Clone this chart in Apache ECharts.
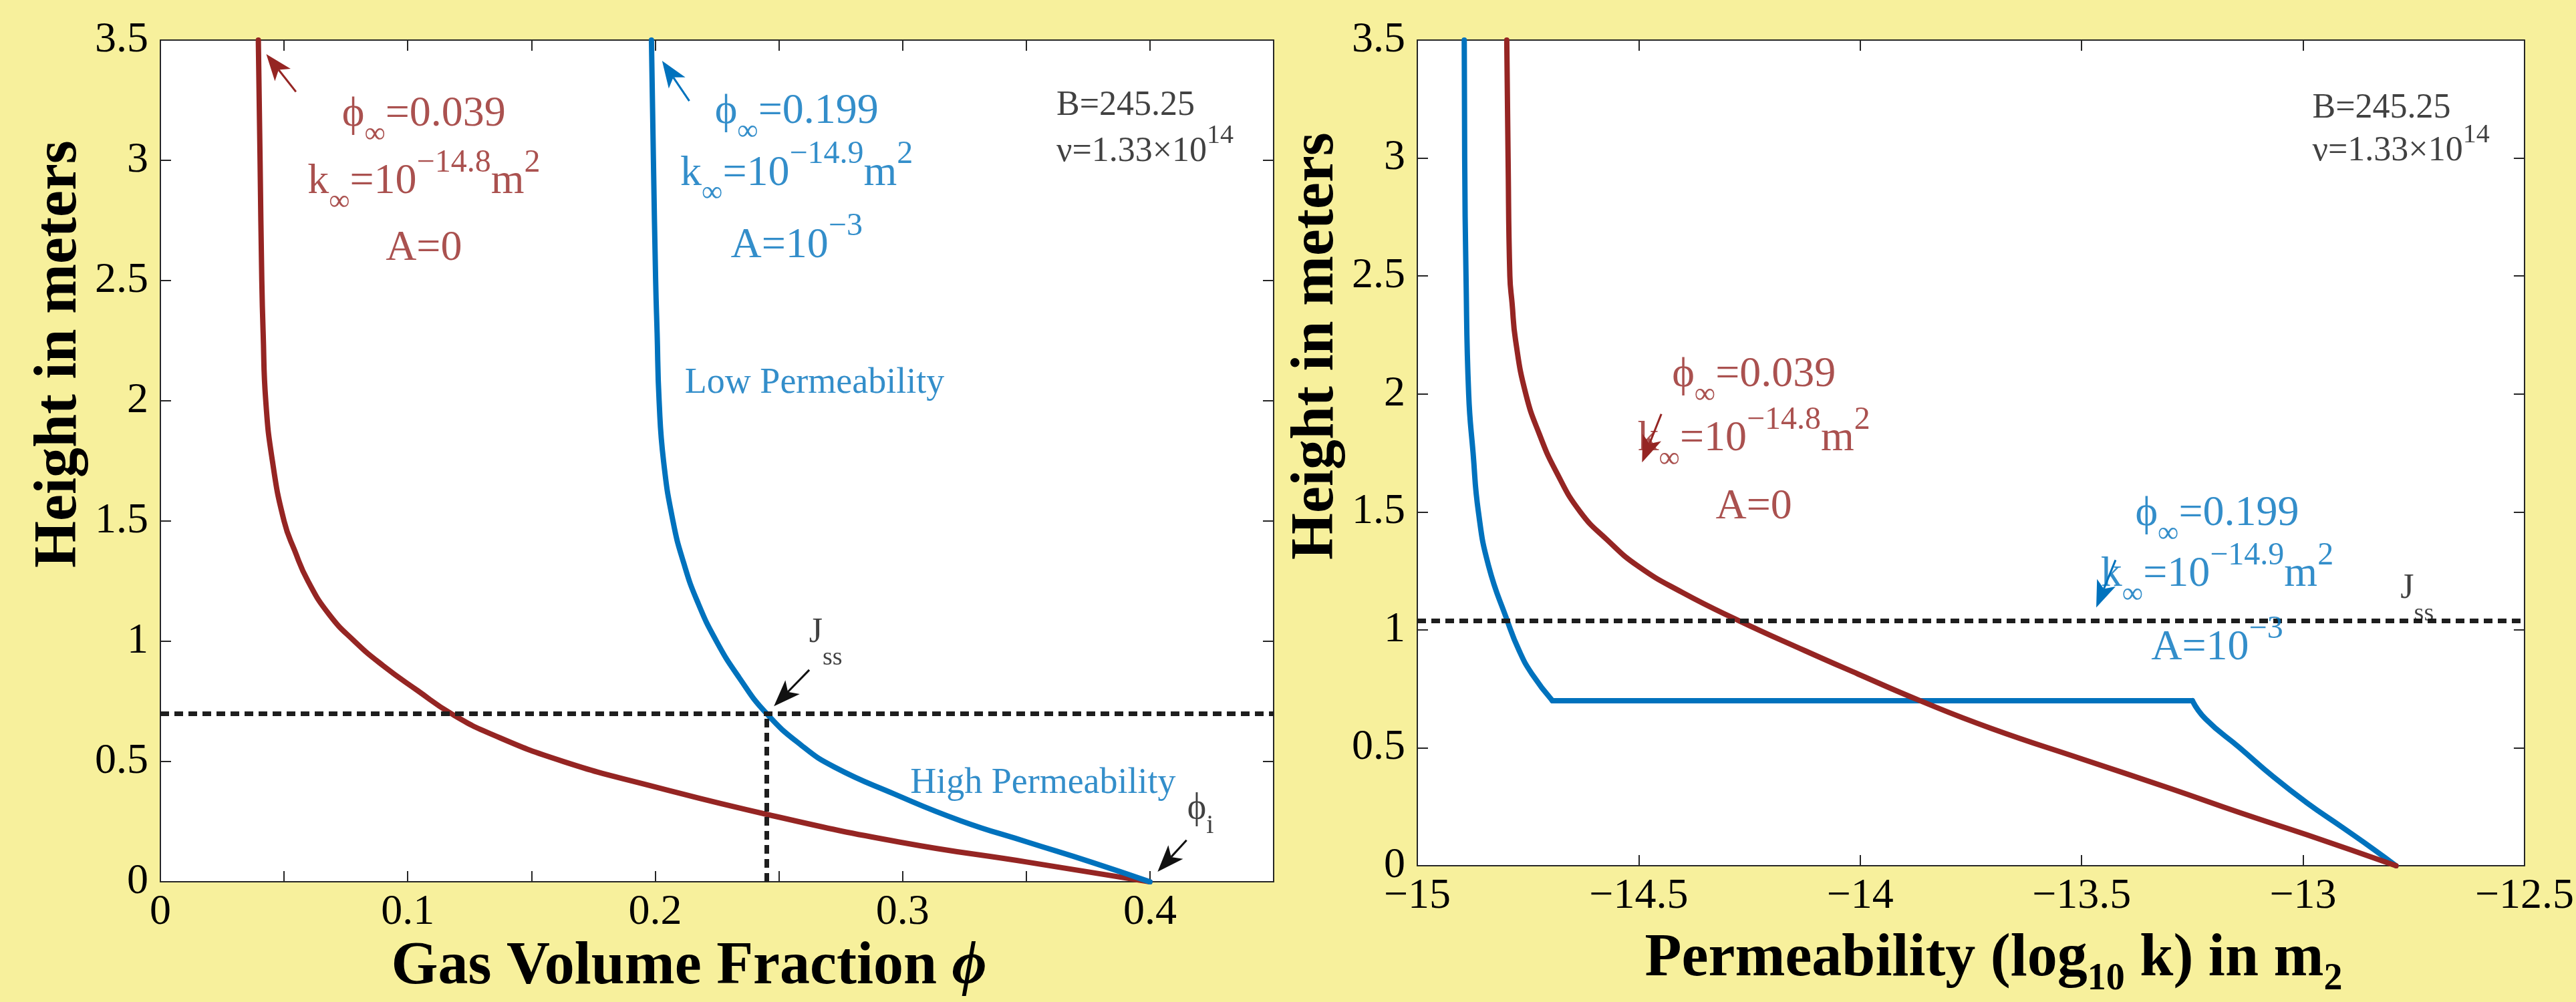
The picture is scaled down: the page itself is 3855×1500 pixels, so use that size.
<!DOCTYPE html>
<html>
<head>
<meta charset="utf-8">
<title>Gas volume fraction and permeability against height</title>
<script src="https://cdn.jsdelivr.net/npm/echarts@6/dist/echarts.min.js"></script>
<style>
  html, body { margin: 0; padding: 0; background: #f7f09c; }
  #chart { width: 3855px; height: 1500px; }
</style>
</head>
<body>
<div id="chart"></div>
<script>
// ---- data ----
const heightTickLabels = ['0', '0.5', '1', '1.5', '2', '2.5', '3', '3.5'];
const phiTickLabels = ['0', '0.1', '0.2', '0.3', '0.4'];
const permTickLabels = ['−15', '−14.5', '−14', '−13.5', '−13', '−12.5'];

// left panel: height (m) vs gas volume fraction
const heightRedL = [3.5, 3.0, 2.5, 2.28, 2.0, 1.749, 1.5, 1.377, 1.25, 1.112, 1.0, 0.9, 0.795, 0.70, 0.611, 0.5, 0.40, 0.276, 0.165, 0.082, 0];
const phiRed = [0.0396, 0.0403, 0.041, 0.04155, 0.0426, 0.0453, 0.0500, 0.0543, 0.0597, 0.0682, 0.0785, 0.0899, 0.104, 0.1175, 0.1345, 0.163, 0.198, 0.247, 0.299, 0.3505, 0.4];
const heightBlueL = [3.5, 3.0, 2.5, 2.28, 2.0, 1.749, 1.5, 1.324, 1.165, 1.0, 0.847, 0.70, 0.566, 0.477, 0.366, 0.254, 0.165, 0.082, 0];
const phiBlue = [0.1985, 0.1993, 0.2002, 0.2008, 0.2016, 0.2034, 0.2072, 0.2116, 0.2171, 0.2248, 0.2341, 0.2450, 0.2593, 0.2725, 0.2965, 0.3235, 0.3506, 0.3763, 0.4];

// right panel: height vs log10 permeability
const heightRedR = [3.5, 3.0, 2.5, 2.385, 2.226, 2.0, 1.828, 1.669, 1.5, 1.381, 1.271, 1.159, 1.04, 0.912, 0.813, 0.70, 0.583, 0.452, 0.326, 0.226, 0.131, 0];
const logkRed = [-14.798, -14.795, -14.791, -14.786, -14.778, -14.755, -14.724, -14.686, -14.632, -14.571, -14.502, -14.402, -14.275, -14.125, -14.005, -13.865, -13.705, -13.498, -13.297, -13.144, -12.991, -12.79];
const heightBlueUpper = [3.5, 3.0, 2.5, 2.0, 1.749, 1.5, 1.271, 1.04, 0.912, 0.813, 0.70];
const logkBlueUpper = [-14.894, -14.893, -14.890, -14.884, -14.874, -14.862, -14.839, -14.797, -14.770, -14.741, -14.695];
const heightBlueLower = [0.70, 0.622, 0.5, 0.377, 0.265, 0.165, 0.065, 0];
const logkBlueLower = [-13.25, -13.22, -13.143, -13.067, -12.990, -12.913, -12.837, -12.79];

// steady-state markers
const jssHeightLeft = 0.7;
const jssPhi = 0.245;
const jssHeightRight = 1.04;

// ---- styling ----
const SERIF = 'Liberation Serif';
const RED = '#952523';
const BLUE = '#0072bd';
const INK = '#111';
const AXIS_INK = '#262626';
const ARROW_COLORS = [RED, BLUE, INK];

const tok = (color, size, lh, va) =>
  ({ color, fontFamily: SERIF, fontSize: size, lineHeight: lh, verticalAlign: va });

const RICH = {
  rn: tok(RED, 64, 104, 'middle'), rb: tok(RED, 44, 44, 'bottom'), rp: tok(RED, 48, 48, 'top'),
  bn: tok(BLUE, 64, 104, 'middle'), bb: tok(BLUE, 44, 44, 'bottom'), bp: tok(BLUE, 48, 48, 'top'),
  bt: tok(BLUE, 54, 60, 'middle'),
  kn: tok(INK, 52, 88, 'middle'), kp: tok(INK, 40, 40, 'top'),
  jn: tok(INK, 52, 112, 'middle'), jb: tok(INK, 38, 38, 'bottom'),
  fn: tok(INK, 54, 92, 'middle'), fb: tok(INK, 40, 40, 'bottom')
};

// annotations (data coordinates)
const notesLeft = [
  { at: [0.1065, 3.19], pos: 'inside', text: '{rn|ϕ}{rb|∞}{rn|=0.039}' },
  { at: [0.1065, 2.91], pos: 'inside', text: '{rn|k}{rb|∞}{rn|=10}{rp|−14.8}{rn|m}{rp|2}' },
  { at: [0.1065, 2.632], pos: 'inside', text: '{rn|A=0}' },
  { at: [0.2572, 3.202], pos: 'inside', text: '{bn|ϕ}{bb|∞}{bn|=0.199}' },
  { at: [0.2572, 2.945], pos: 'inside', text: '{bn|k}{bb|∞}{bn|=10}{bp|−14.9}{bn|m}{bp|2}' },
  { at: [0.2572, 2.645], pos: 'inside', text: '{bn|A=10}{bp|−3}' },
  { at: [0.212, 2.074], pos: 'right', text: '{bt|Low Permeability}' },
  { at: [0.3031, 0.41], pos: 'right', text: '{bt|High Permeability}' },
  { at: [0.3622, 3.228], pos: 'right', text: '{kn|B=245.25}' },
  { at: [0.3622, 3.035], pos: 'right', text: '{kn|ν=1.33×10}{kp|14}' },
  { at: [0.2622, 1.034], pos: 'right', text: '{jn|J}{jb|ss}' },
  { at: [0.4151, 0.304], pos: 'right', text: '{fn|ϕ}{fb|i}' }
];
const notesRight = [
  { at: [-14.24, 2.08], pos: 'inside', text: '{rn|ϕ}{rb|∞}{rn|=0.039}' },
  { at: [-14.24, 1.808], pos: 'inside', text: '{rn|k}{rb|∞}{rn|=10}{rp|−14.8}{rn|m}{rp|2}' },
  { at: [-14.24, 1.52], pos: 'inside', text: '{rn|A=0}' },
  { at: [-13.194, 1.491], pos: 'inside', text: '{bn|ϕ}{bb|∞}{bn|=0.199}' },
  { at: [-13.194, 1.2346], pos: 'inside', text: '{bn|k}{bb|∞}{bn|=10}{bp|−14.9}{bn|m}{bp|2}' },
  { at: [-13.194, 0.9226], pos: 'inside', text: '{bn|A=10}{bp|−3}' },
  { at: [-12.979, 3.21], pos: 'right', text: '{kn|B=245.25}' },
  { at: [-12.979, 3.029], pos: 'right', text: '{kn|ν=1.33×10}{kp|14}' },
  { at: [-12.78, 1.1733], pos: 'right', text: '{jn|J}{jb|ss}' }
];
// arrows: tail x, tail y, tip x, tip y, colour index
const arrowsLeft = [
  [0.0548, 3.285, 0.0428, 3.442, 0],
  [0.2138, 3.247, 0.2028, 3.414, 1],
  [0.2623, 0.881, 0.248, 0.730, 2],
  [0.4148, 0.173, 0.4031, 0.042, 2]
];
const arrowsRight = [
  [-14.449, 1.915, -14.4925, 1.71, 0],
  [-13.4234, 1.296, -13.467, 1.095, 1]
];

const zip = (xs, ys) => xs.map((x, i) => [x, ys[i]]);
const tickFormatter = labels => v =>
  labels.find(t => Math.abs(parseFloat(t.replace('−', '-')) - v) < 1e-6) ?? '';

const frameLine = { show: true, onZero: false, lineStyle: { color: AXIS_INK, width: 2 } };
const frameTick = { show: true, inside: true, length: 16, lineStyle: { color: AXIS_INK, width: 2 } };
const tickText = { fontFamily: SERIF, fontSize: 64, color: '#000' };
const titleText = { fontFamily: SERIF, fontWeight: 'bold', fontSize: 90, color: '#000', lineHeight: 92 };

const axis = extra => Object.assign({
  type: 'value', axisLine: frameLine, axisTick: frameTick, splitLine: { show: false }
}, extra);

// the y titles sit above the middle of the axis in the original, hence the padding
const heightAxis = (grid, pos, labelled) => axis({
  gridIndex: grid, position: pos, min: 0, max: 3.5, interval: 0.5,
  axisLabel: labelled ? { ...tickText, margin: 18, formatter: tickFormatter(heightTickLabels) } : { show: false },
  name: labelled ? 'Height in meters' : '', nameLocation: 'middle', nameRotate: 90, nameGap: 104,
  nameTextStyle: { ...titleText, padding: [0, 0, 0, 320] }
});

function renderArrow(params, api) {
  const tail = api.coord([api.value(0), api.value(1)]);
  const tip = api.coord([api.value(2), api.value(3)]);
  const color = ARROW_COLORS[api.value(4)];
  const dx = tip[0] - tail[0], dy = tip[1] - tail[1];
  const len = Math.hypot(dx, dy) || 1;
  const ux = dx / len, uy = dy / len, nx = -uy, ny = ux;
  const headLen = 40, halfW = 15, notch = 10;
  const base = [tip[0] - ux * headLen, tip[1] - uy * headLen];
  const neck = [tip[0] - ux * (headLen - notch), tip[1] - uy * (headLen - notch)];
  return {
    type: 'group',
    children: [
      { type: 'line', shape: { x1: tail[0], y1: tail[1], x2: neck[0], y2: neck[1] },
        style: { stroke: color, lineWidth: 3 } },
      { type: 'polygon',
        shape: { points: [tip, [base[0] + nx * halfW, base[1] + ny * halfW], neck,
                          [base[0] - nx * halfW, base[1] - ny * halfW]] },
        style: { fill: color } }
    ]
  };
}

const curve = (data, color, xi, yi, smooth, extra) => Object.assign({
  type: 'line', xAxisIndex: xi, yAxisIndex: yi, data, smooth, symbol: 'none', silent: true,
  lineStyle: { color, width: 8, cap: 'round', join: 'round' }
}, extra || {});

const dashed = { type: [13, 8], width: 7, color: '#1e1e1e' };

const notesSeries = (notes, xi, yi) => ({
  type: 'scatter', xAxisIndex: xi, yAxisIndex: yi, symbolSize: 0, silent: true, clip: false, z: 5,
  label: { show: true, rich: RICH },
  data: notes.map(n => ({ value: n.at, label: { position: n.pos, distance: 0, formatter: n.text } }))
});

const arrowSeries = (arrows, xi, yi) => ({
  type: 'custom', coordinateSystem: 'cartesian2d', xAxisIndex: xi, yAxisIndex: yi,
  silent: true, z: 6, renderItem: renderArrow, data: arrows
});

const chart = echarts.init(document.getElementById('chart'));
chart.setOption({
  backgroundColor: '#f7f09c',
  animation: false,
  grid: [
    { left: 240, top: 60, width: 1666, height: 1262, show: true, backgroundColor: '#fff', borderWidth: 0 },
    { left: 2121, top: 60, width: 1665, height: 1262, show: true, backgroundColor: '#fff', borderWidth: 0 }
  ],
  xAxis: [
    axis({
      gridIndex: 0, position: 'bottom', min: 0, max: 0.45, interval: 0.05,
      axisLabel: { ...tickText, margin: 14, formatter: tickFormatter(phiTickLabels) },
      name: 'Gas Volume Fraction {i|ϕ}', nameLocation: 'middle', nameGap: 80,
      nameTextStyle: { ...titleText, padding: [0, 84, 0, 0],
        rich: { i: { ...titleText, fontStyle: 'italic' } } }
    }),
    axis({ gridIndex: 0, position: 'top', min: 0, max: 0.45, interval: 0.05, axisLabel: { show: false } }),
    axis({
      gridIndex: 1, position: 'bottom', min: -15, max: -12.5, interval: 0.5,
      axisLabel: { ...tickText, margin: 14, formatter: tickFormatter(permTickLabels) },
      name: 'Permeability (log{s|10} k) in m{s|2}', nameLocation: 'middle', nameGap: 68,
      nameTextStyle: {
        ...titleText, lineHeight: 116, padding: [0, 0, 0, 68],
        rich: { s: { ...titleText, fontSize: 56, lineHeight: 56, verticalAlign: 'bottom' } }
      }
    }),
    axis({ gridIndex: 1, position: 'top', min: -15, max: -12.5, interval: 0.5, axisLabel: { show: false } })
  ],
  yAxis: [
    heightAxis(0, 'left', true),
    heightAxis(0, 'right', false),
    heightAxis(1, 'left', true),
    heightAxis(1, 'right', false)
  ],
  series: [
    // left panel
    curve(zip(phiRed, heightRedL), RED, 0, 0, 0.5),
    curve(zip(phiBlue, heightBlueL), BLUE, 0, 0, 0.5, {
      markLine: {
        silent: true, symbol: 'none', label: { show: false }, lineStyle: dashed,
        data: [
          { yAxis: jssHeightLeft },
          [{ coord: [jssPhi, 0] }, { coord: [jssPhi, jssHeightLeft] }]
        ]
      }
    }),
    arrowSeries(arrowsLeft, 0, 0),
    notesSeries(notesLeft, 0, 0),
    // right panel
    curve(zip(logkBlueUpper, heightBlueUpper), BLUE, 2, 2, 0.5),
    curve([[logkBlueUpper[logkBlueUpper.length - 1], heightBlueUpper[heightBlueUpper.length - 1]],
           [logkBlueLower[0], heightBlueLower[0]]], BLUE, 2, 2, false),
    curve(zip(logkBlueLower, heightBlueLower), BLUE, 2, 2, 0.5),
    curve(zip(logkRed, heightRedR), RED, 2, 2, 0.5, {
      markLine: {
        silent: true, symbol: 'none', label: { show: false }, lineStyle: dashed,
        data: [{ yAxis: jssHeightRight }]
      }
    }),
    arrowSeries(arrowsRight, 2, 2),
    notesSeries(notesRight, 2, 2)
  ]
});
</script>
</body>
</html>
